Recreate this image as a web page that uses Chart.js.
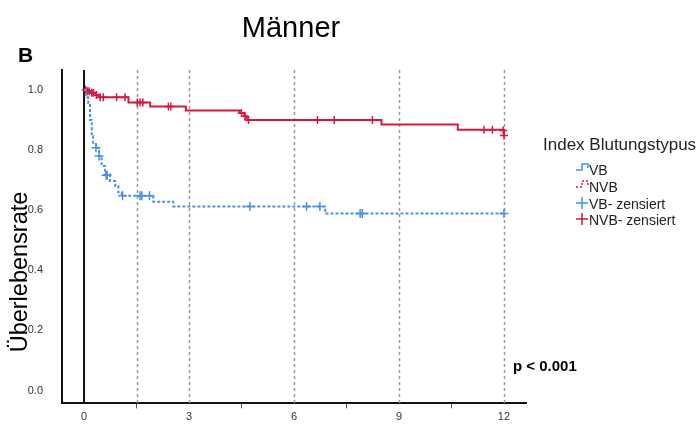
<!DOCTYPE html>
<html>
<head>
<meta charset="utf-8">
<script src="https://cdn.jsdelivr.net/npm/chart.js@4"></script>
<style>
  html, body { margin: 0; padding: 0; background: #fff; }
  canvas { display: block; }
</style>
</head>
<body>
<canvas id="km" width="700" height="429"></canvas>
<script>
// Kaplan-Meier estimates (time in months)
const vbTime = [0, 0.05, 0.12, 0.17, 0.22, 0.26, 0.34, 0.43, 0.5, 0.6, 0.74, 0.89, 0.98, 1.08, 1.98, 2.55, 6.89, 12];
const vbSurv = [1.0, 0.975, 0.956, 0.9, 0.846, 0.824, 0.807, 0.78, 0.747, 0.72, 0.697, 0.68, 0.659, 0.648, 0.628, 0.612, 0.589, 0.589];

const nvbTime = [0, 0.08, 0.18, 0.3, 0.42, 1.27, 1.89, 2.91, 4.45, 4.58, 4.65, 8.5, 10.68, 12];
const nvbSurv = [1.0, 0.995, 0.99, 0.983, 0.975, 0.958, 0.945, 0.931, 0.923, 0.912, 0.9, 0.885, 0.867, 0.848];

const vbCensTime = [0.34, 0.43, 0.63, 0.66, 1.1, 1.6, 1.65, 1.87, 4.74, 6.36, 6.74, 7.89, 7.95, 12];
const vbCensSurv = [0.807, 0.78, 0.716, 0.716, 0.648, 0.648, 0.648, 0.648, 0.612, 0.612, 0.612, 0.589, 0.589, 0.589];

const nvbCensTime = [0.05, 0.1, 0.15, 0.22, 0.27, 0.35, 0.46, 0.55, 0.93, 1.17, 1.52, 1.6, 1.68, 2.41, 2.48, 4.5, 4.6, 4.7, 6.67, 7.15, 8.24, 11.43, 11.67, 11.98, 12];
const nvbCensSurv = [1.0, 0.995, 0.995, 0.99, 0.99, 0.983, 0.975, 0.975, 0.975, 0.975, 0.958, 0.958, 0.958, 0.945, 0.945, 0.923, 0.912, 0.9, 0.9, 0.9, 0.9, 0.867, 0.867, 0.865, 0.848];

const xTicks = [0, 1.5, 3, 4.5, 6, 7.5, 9, 10.5, 12];
const xGridLines = [1.5, 3, 6, 9, 12];
const yTicks = [0, 0.2, 0.4, 0.6, 0.8, 1.0];

const legendLabels = ['VB', 'NVB', 'VB- zensiert', 'NVB- zensiert'];

const BLUE = '#4a90e2';
const RED = '#d6173f';

const toPoints = (xs, ys) => xs.map((x, i) => ({ x: x, y: ys[i] }));

// dashed reference lines + solid line at time 0
const gridPlugin = {
  id: 'kmGrid',
  beforeDatasetsDraw(chart) {
    const { ctx, chartArea, scales } = chart;
    ctx.save();
    ctx.strokeStyle = '#9a9a9a';
    ctx.lineWidth = 1.5;
    ctx.setLineDash([3, 3]);
    xGridLines.forEach(v => {
      const px = Math.round(scales.x.getPixelForValue(v)) + 0.5;
      ctx.beginPath();
      ctx.moveTo(px, chartArea.top);
      ctx.lineTo(px, chartArea.bottom);
      ctx.stroke();
    });
    ctx.setLineDash([]);
    ctx.strokeStyle = '#111';
    ctx.lineWidth = 2;
    const x0 = scales.x.getPixelForValue(0);
    ctx.beginPath();
    ctx.moveTo(x0, chartArea.top);
    ctx.lineTo(x0, chartArea.bottom);
    ctx.stroke();
    ctx.restore();
  }
};

// titles, p-value and the legend block
const textPlugin = {
  id: 'kmText',
  afterDraw(chart) {
    const ctx = chart.ctx;
    ctx.save();
    ctx.fillStyle = '#000';
    ctx.textBaseline = 'alphabetic';

    ctx.font = '29px "Liberation Sans", Arial, sans-serif';
    ctx.textAlign = 'center';
    ctx.fillText('Männer', 291, 37);

    ctx.font = 'bold 21px "Liberation Sans", Arial, sans-serif';
    ctx.textAlign = 'left';
    ctx.fillText('B', 18, 62);

    ctx.font = 'bold 15px "Liberation Sans", Arial, sans-serif';
    ctx.fillText('p < 0.001', 513, 371);

    // y axis title
    ctx.save();
    ctx.translate(27, 272);
    ctx.rotate(-Math.PI / 2);
    ctx.textAlign = 'center';
    ctx.font = '23.5px "Liberation Sans", Arial, sans-serif';
    ctx.fillText('Überlebensrate', 0, 0);
    ctx.restore();

    // legend
    ctx.fillStyle = '#222';
    ctx.font = '17px "Liberation Sans", Arial, sans-serif';
    ctx.fillText('Index Blutungstypus', 543, 150);

    ctx.font = '14px "Liberation Sans", Arial, sans-serif';
    const base = [175, 192, 209, 225];
    legendLabels.forEach((t, i) => ctx.fillText(t, 589, base[i]));

    ctx.lineWidth = 1.5;
    // VB: solid step
    ctx.strokeStyle = BLUE;
    ctx.beginPath();
    ctx.moveTo(576, 170); ctx.lineTo(582, 170); ctx.lineTo(582, 164);
    ctx.lineTo(588, 164); ctx.lineTo(588, 168);
    ctx.stroke();
    // NVB: dotted step
    ctx.strokeStyle = RED;
    ctx.setLineDash([2, 2]);
    ctx.beginPath();
    ctx.moveTo(576, 187); ctx.lineTo(582, 187); ctx.lineTo(582, 181);
    ctx.lineTo(588, 181); ctx.lineTo(588, 186);
    ctx.stroke();
    ctx.setLineDash([]);
    // censored crosses
    [[BLUE, 203], [RED, 219]].forEach(([c, y]) => {
      ctx.strokeStyle = c;
      ctx.beginPath();
      ctx.moveTo(576, y); ctx.lineTo(588, y);
      ctx.moveTo(582, y - 6); ctx.lineTo(582, y + 6);
      ctx.stroke();
    });
    ctx.restore();
  }
};

new Chart(document.getElementById('km'), {
  type: 'line',
  data: {
    datasets: [
      {
        label: 'VB',
        data: toPoints(vbTime, vbSurv),
        borderColor: BLUE,
        borderWidth: 2,
        borderDash: [3, 2],
        stepped: 'before',
        pointRadius: 0,
        fill: false
      },
      {
        label: 'NVB',
        data: toPoints(nvbTime, nvbSurv),
        borderColor: RED,
        borderWidth: 2,
        stepped: 'before',
        pointRadius: 0,
        fill: false
      },
      {
        label: 'VB- zensiert',
        type: 'scatter',
        data: toPoints(vbCensTime, vbCensSurv),
        pointStyle: 'cross',
        pointRadius: 4.5,
        borderColor: BLUE,
        pointBorderWidth: 1.5,
        showLine: false
      },
      {
        label: 'NVB- zensiert',
        type: 'scatter',
        data: toPoints(nvbCensTime, nvbCensSurv),
        pointStyle: 'cross',
        pointRadius: 4,
        borderColor: RED,
        pointBorderWidth: 1.5,
        showLine: false
      }
    ]
  },
  options: {
    responsive: false,
    animation: false,
    devicePixelRatio: 1,
    layout: { padding: { top: 70, right: 174, left: 0, bottom: 0 } },
    plugins: {
      legend: { display: false },
      tooltip: { enabled: false }
    },
    scales: {
      x: {
        type: 'linear',
        min: -0.63,
        max: 12.63,
        afterBuildTicks: s => { s.ticks = xTicks.map(v => ({ value: v })); },
        afterFit: s => { s.height = 23; },
        border: { display: true, color: '#111', width: 2 },
        grid: {
          display: true,
          drawOnChartArea: false,
          drawTicks: true,
          tickLength: 5,
          tickWidth: 1,
          tickColor: c => (c.tick && c.tick.value % 3 === 0) ? 'rgba(0,0,0,0)' : '#555'
        },
        ticks: {
          padding: 2,
          color: '#333',
          font: { family: '"Liberation Sans", Arial, sans-serif', size: 11 },
          maxRotation: 0,
          autoSkip: false,
          callback: v => (v % 3 === 0 ? String(v) : '')
        }
      },
      y: {
        type: 'linear',
        min: -0.043,
        max: 1.066,
        afterBuildTicks: s => { s.ticks = yTicks.map(v => ({ value: v })); },
        afterFit: s => { s.width = 62; },
        border: { display: true, color: '#111', width: 2 },
        grid: { display: false, drawTicks: false },
        ticks: {
          padding: 19,
          color: '#333',
          font: { family: '"Liberation Sans", Arial, sans-serif', size: 11 },
          callback: v => Number(v).toFixed(1)
        }
      }
    }
  },
  plugins: [gridPlugin, textPlugin]
});
</script>
</body>
</html>
